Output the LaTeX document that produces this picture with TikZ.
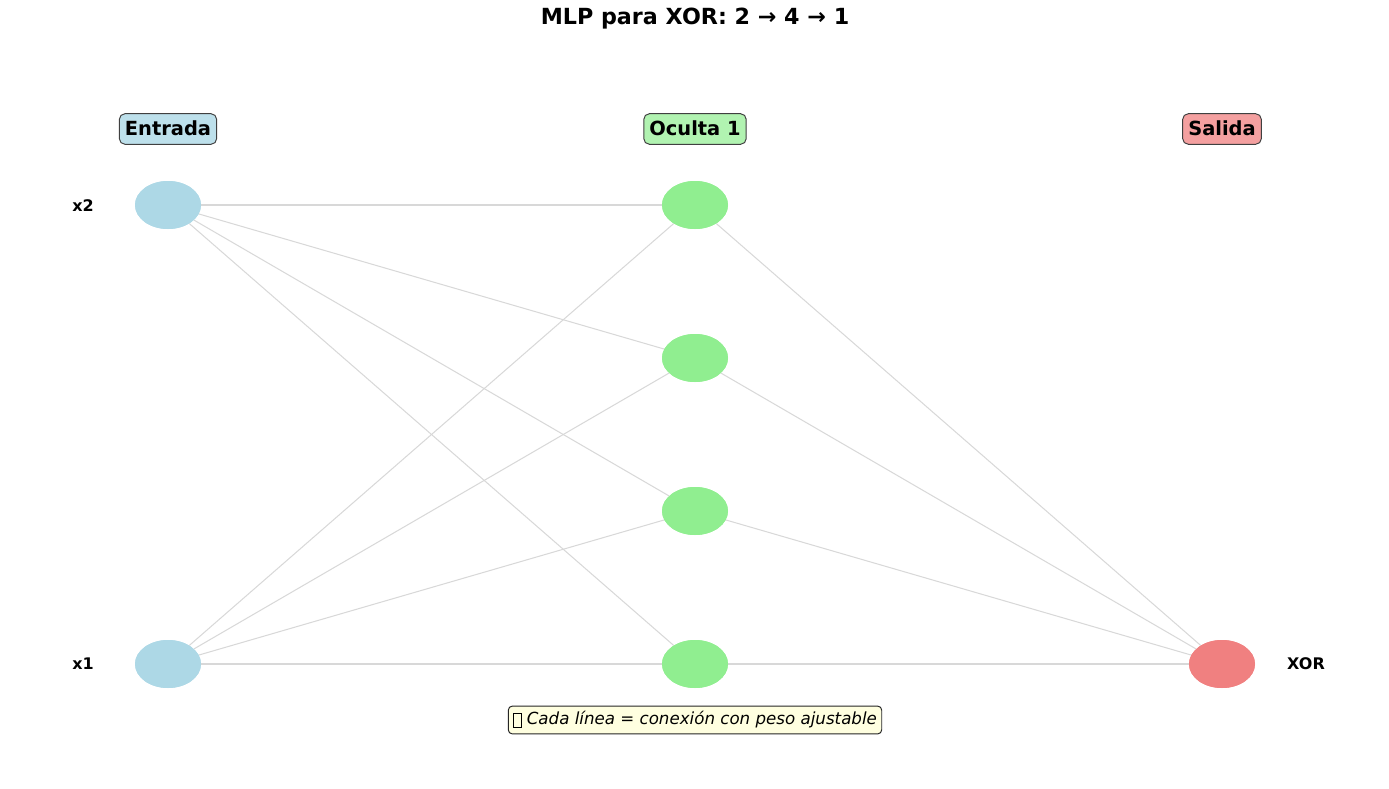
\documentclass[tikz,border=0pt]{standalone}
\usepackage{fontspec}
\setmainfont{DejaVu Sans}
\usetikzlibrary{shapes.geometric}
\definecolor{inblue}{HTML}{ADD8E6}
\definecolor{hidgreen}{HTML}{90EE90}
\definecolor{outred}{HTML}{F08080}
\definecolor{edgegray}{HTML}{D8D8D8}
\definecolor{noteyellow}{HTML}{FFFFE0}
\newcommand{\tofubox}{{\setlength{\fboxsep}{0pt}\setlength{\fboxrule}{0.5pt}\raisebox{-0.12em}{\fbox{\rule{0pt}{0.8em}\hspace{0.42em}}}}}
\tikzset{
  neuron/.style={ellipse, minimum width=66*0.72pt, minimum height=48*0.72pt, inner sep=0pt, draw=none},
  inneuron/.style={neuron, fill=inblue},
  hidneuron/.style={neuron, fill=hidgreen},
  outneuron/.style={neuron, fill=outred},
  conn/.style={draw=edgegray, line width=0.75pt},
  layerlabel/.style={rounded corners=4pt, draw=black!75, line width=0.7pt, font=\fontsize{14}{16}\selectfont\bfseries, inner xsep=4pt, inner ysep=5.5pt, text height=10pt, text depth=1pt},
  nodelabel/.style={font=\fontsize{11.5}{13}\selectfont\bfseries},
}
\begin{document}
\begin{tikzpicture}[x=0.72pt, y=-0.72pt]
\useasboundingbox (0,0) rectangle (1389,789);
% title
\node[font=\fontsize{16}{19}\selectfont\bfseries] (title) at (695,19) {MLP para XOR: 2 → 4 → 1};
% layer labels
\node[layerlabel, fill=inblue!80] (lin) at (168,129) {Entrada};
\node[layerlabel, fill=hidgreen!70] (lhid) at (695,129) {Oculta 1};
\node[layerlabel, fill=outred!75] (lout) at (1222,129) {Salida};
% neurons
\node[inneuron] (x2) at (168,205) {};
\node[inneuron] (x1) at (168,664) {};
\node[hidneuron] (h1) at (695,205) {};
\node[hidneuron] (h2) at (695,358) {};
\node[hidneuron] (h3) at (695,511) {};
\node[hidneuron] (h4) at (695,664) {};
\node[outneuron] (o) at (1222,664) {};
% connections
\foreach \i in {x1,x2}{
  \foreach \h in {h1,h2,h3,h4}{
    \draw[conn] (\i) -- (\h);
  }
}
\foreach \h in {h1,h2,h3,h4}{
  \draw[conn] (\h) -- (o);
}
% redraw neurons on top
\node[inneuron] at (x2) {};
\node[inneuron] at (x1) {};
\node[hidneuron] at (h1) {};
\node[hidneuron] at (h2) {};
\node[hidneuron] at (h3) {};
\node[hidneuron] at (h4) {};
\node[outneuron] at (o) {};
% neuron labels
\node[nodelabel] (lx2) at (83,206) {x2};
\node[nodelabel] (lx1) at (83,664) {x1};
\node[nodelabel] (lxor) at (1306,664) {XOR};
% note
\node[rounded corners=3pt, draw=black!85, line width=0.7pt, fill=noteyellow, inner xsep=3.5pt, inner ysep=4pt, font=\fontsize{12}{14}\selectfont\itshape] (note) at (695,720) {\tofubox\ Cada línea = conexión con peso ajustable};
\end{tikzpicture}
\end{document}
